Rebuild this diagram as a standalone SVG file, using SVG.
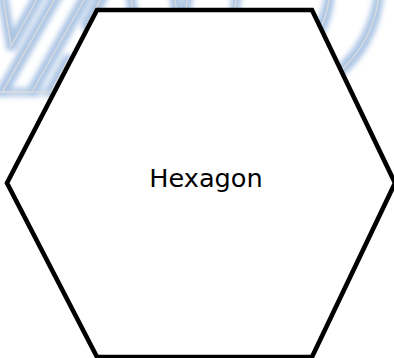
<svg xmlns="http://www.w3.org/2000/svg" width="394" height="358" viewBox="0 0 394 358">
  <style>
    .wm { font-family: "DejaVu Sans", sans-serif; font-weight: bold; font-style: italic; font-size: 250px; fill: none; stroke: #dcdcdc; stroke-width: 1.2; }
    .shape { fill: #ffffff; stroke: #000000; stroke-width: 4.6; stroke-linejoin: miter; }
    .label { font-family: "DejaVu Sans", sans-serif; font-size: 25.6px; fill: #000000; text-anchor: middle; }
  </style>
  <defs>
    <filter id="glow" x="-10%" y="-10%" width="120%" height="120%">
      <feMorphology in="SourceAlpha" operator="dilate" radius="3.5" result="d"/>
      <feGaussianBlur in="d" stdDeviation="2.4" result="b"/>
      <feFlood flood-color="#adc6e5"/>
      <feComposite in2="b" operator="in" result="g"/>
      <feMerge><feMergeNode in="g"/><feMergeNode in="SourceGraphic"/></feMerge>
    </filter>
  </defs>
  <rect width="394" height="358" fill="#ffffff"/>
  <g id="watermark">
    <text class="wm" x="-75" y="92" dx="0 -83 -28" filter="url(#glow)">VAO</text>
  </g>
  <g id="connectors"></g>
  <g id="hexagon">
    <polygon class="shape" points="97,10 312,10 395,183 312,357 97,357 7,183"/>
    <text class="label" x="206" y="187">Hexagon</text>
  </g>
</svg>
